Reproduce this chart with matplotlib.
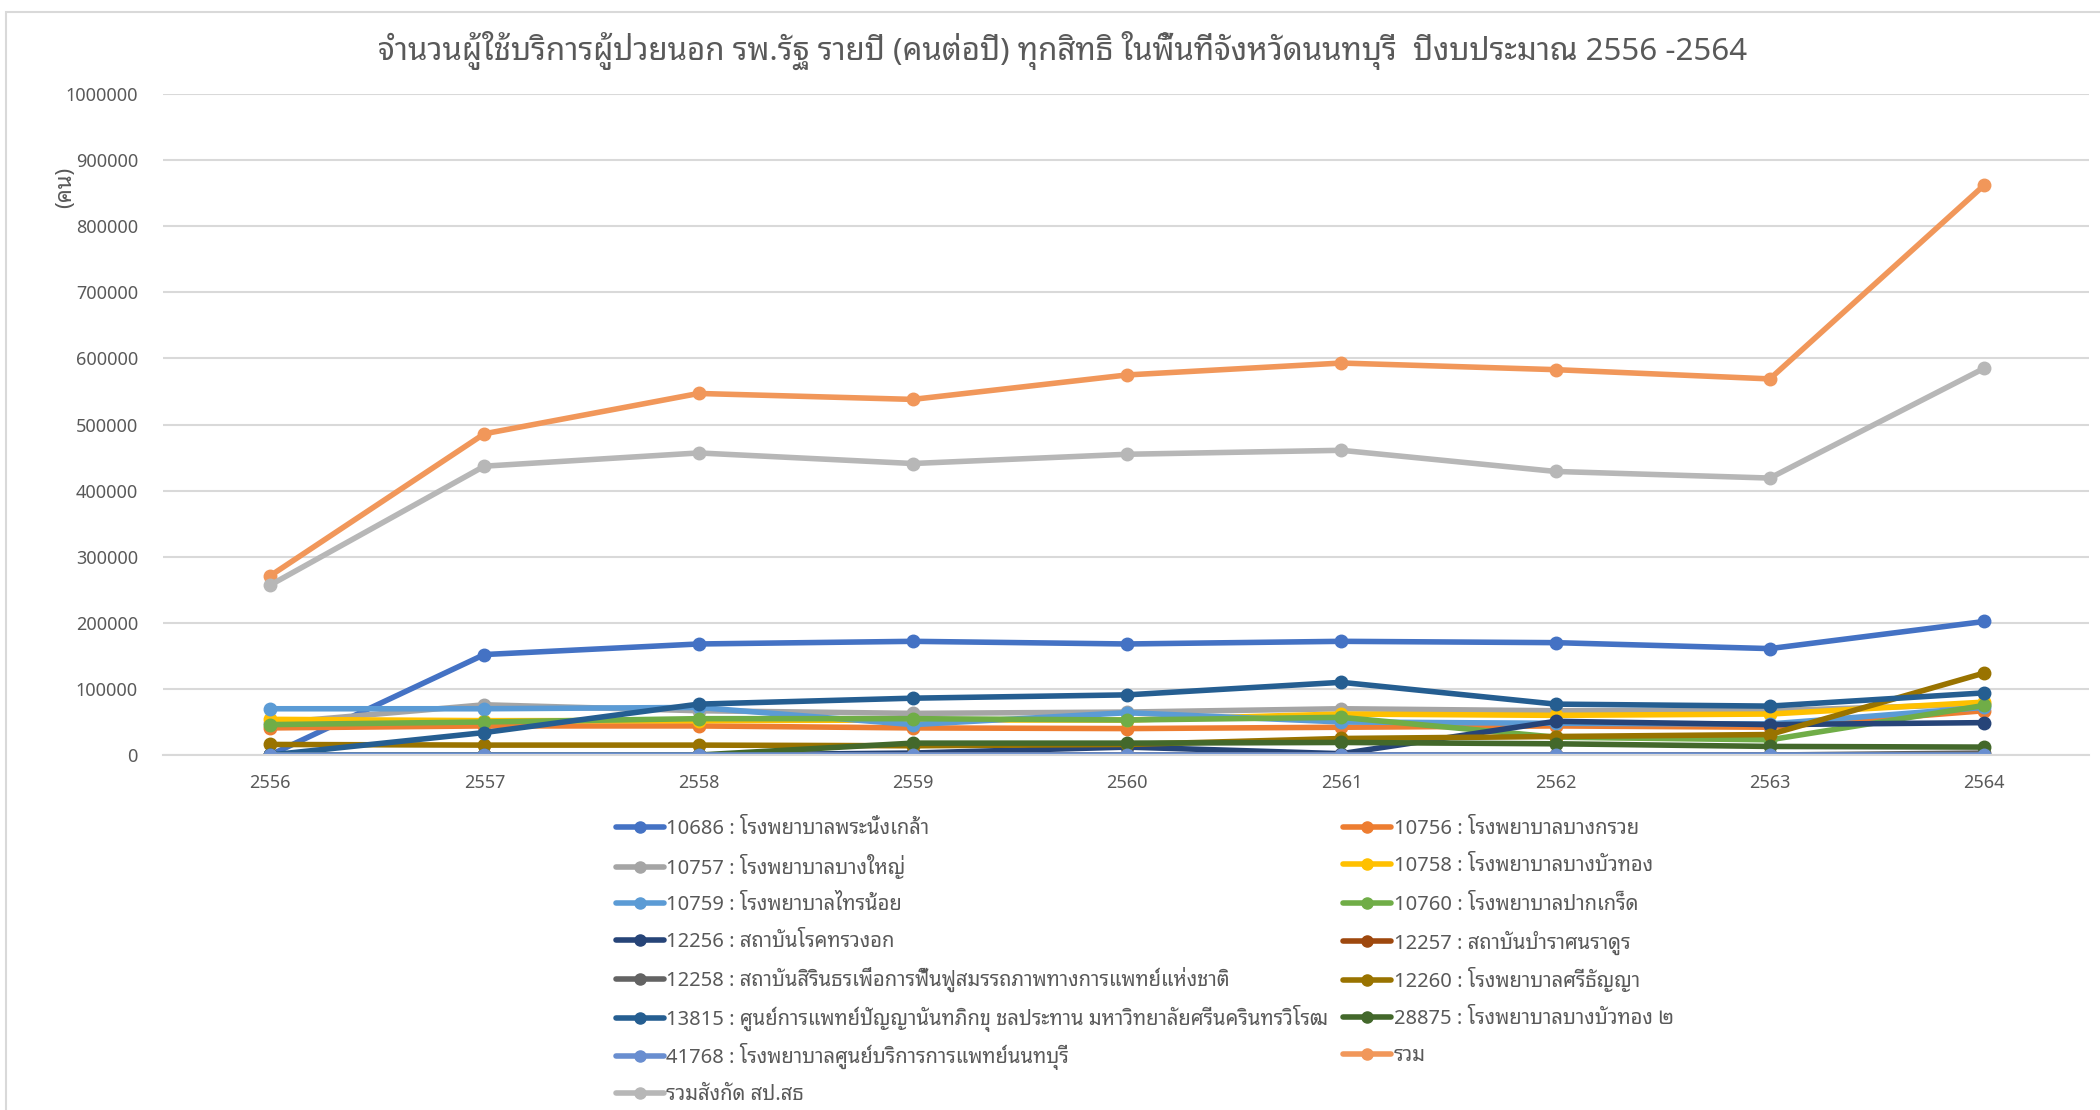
import matplotlib
matplotlib.use("Agg")
import matplotlib.pyplot as plt
from matplotlib import font_manager
from matplotlib.patches import Rectangle

# pick a Thai-capable font that is installed
names = set(f.name for f in font_manager.fontManager.ttflist)
thai_font = "DejaVu Sans"
for cand in ["Noto Sans Thai Looped", "Noto Sans Thai", "Sarabun", "Anuphan", "Athiti"]:
    if cand in names:
        thai_font = cand
        break
plt.rcParams['font.family'] = [thai_font, 'DejaVu Sans']

years = [2556, 2557, 2558, 2559, 2560, 2561, 2562, 2563, 2564]

labels = [
    "10686 : โรงพยาบาลพระนั่งเกล้า",
    "10756 : โรงพยาบาลบางกรวย",
    "10757 : โรงพยาบาลบางใหญ่",
    "10758 : โรงพยาบาลบางบัวทอง",
    "10759 : โรงพยาบาลไทรน้อย",
    "10760 : โรงพยาบาลปากเกร็ด",
    "12256 : สถาบันโรคทรวงอก",
    "12257 : สถาบันบำราศนราดูร",
    "12258 : สถาบันสิรินธรเพื่อการฟื้นฟูสมรรถภาพทางการแพทย์แห่งชาติ",
    "12260 : โรงพยาบาลศรีธัญญา",
    "13815 : ศูนย์การแพทย์ปัญญานันทภิกขุ ชลประทาน มหาวิทยาลัยศรีนครินทรวิโรฒ",
    "28875 : โรงพยาบาลบางบัวทอง ๒",
    "41768 : โรงพยาบาลศูนย์บริการการแพทย์นนทบุรี",
    "รวม",
    "รวมสังกัด สป.สธ",
]

h10686 = [0, 152000, 168000, 172000, 168000, 172000, 170000, 161000, 202000]
h10756 = [41000, 44000, 44000, 41000, 40000, 42000, 44000, 42000, 67000]
h10757 = [48000, 76000, 67000, 63000, 65000, 70000, 67000, 67000, 77000]
h10758 = [54000, 52000, 52000, 53000, 53000, 62000, 60000, 62000, 80000]
h10759 = [70000, 70000, 72000, 46000, 64000, 50000, 48000, 47000, 72000]
h10760 = [46000, 50000, 55000, 55000, 53000, 57000, 27000, 23000, 75000]
h12256 = [0, 0, 0, 3000, 12000, 2000, 51000, 46000, 49000]
h12257 = [0, 0, 0, 0, 0, 0, 0, 0, 0]
h12258 = [0, 0, 0, 0, 0, 0, 0, 0, 3000]
h12260 = [16000, 15000, 15000, 14000, 16000, 25000, 28000, 31000, 124000]
h13815 = [0, 34000, 77000, 86000, 91000, 110000, 77000, 74000, 94000]
h28875 = [0, 0, 0, 18000, 18000, 19000, 17000, 13000, 12000]
h41768 = [0, 0, 0, 0, 0, 0, 0, 0, 0]
total = [271000, 486000, 547000, 538000, 575000, 593000, 583000, 569000, 862000]
total_mph = [257000, 437000, 457000, 441000, 455000, 461000, 429000, 419000, 585000]

series = [h10686, h10756, h10757, h10758, h10759, h10760, h12256, h12257,
          h12258, h12260, h13815, h28875, h41768, total, total_mph]
colors = ["#4472C4", "#ED7D31", "#A5A5A5", "#FFC000", "#5B9BD5", "#70AD47",
          "#264478", "#9E480E", "#636363", "#997300", "#255E91", "#43682B",
          "#698ED0", "#F1975A", "#B7B7B7"]
yticks = list(range(0, 1000001, 100000))

fig = plt.figure(figsize=(21, 11.1), dpi=100)
ax = fig.add_axes([0.0776, 0.3198, 0.9172, 0.5955])

handles = []
for vals, lab, c in zip(series, labels, colors):
    ln, = ax.plot(years, vals, color=c, lw=4, marker='o', markersize=9,
                  label=lab, solid_capstyle='round')
    handles.append(ln)

ax.set_xlim(2555.5, 2564.49)
ax.set_ylim(0, 1000000)
ax.set_yticks(yticks)
ax.set_yticklabels([str(v) for v in yticks])
ax.set_xticks(years)
ax.set_xticklabels([str(y) for y in years])
ax.grid(axis='y', color='#D9D9D9', lw=1.5)
ax.set_axisbelow(True)
for s in ['top', 'right', 'left']:
    ax.spines[s].set_visible(False)
ax.spines['bottom'].set_color('#D9D9D9')
ax.spines['bottom'].set_linewidth(1.5)
ax.tick_params(axis='both', length=0, labelsize=13, colors='#595959', pad=14)
ax.tick_params(axis='y', pad=18)
ax.set_ylabel("(คน)", fontsize=16, color='#595959')
ax.yaxis.set_label_coords(-0.045, 0.858)

fig.text(0.506, 0.955, "จำนวนผู้ใช้บริการผู้ป่วยนอก รพ.รัฐ รายปี (คนต่อปี) ทุกสิทธิ ในพื้นที่จังหวัดนนทบุรี  ปีงบประมาณ 2556 -2564",
         ha='center', va='center', fontsize=22.5, color='#595959')

# legend laid out row by row in two columns, one small legend per entry
row_y = [0.2535, 0.2197, 0.1848, 0.151, 0.1172, 0.0822, 0.0484, 0.0134]
col_x = [0.2934, 0.6396]
for i, (h, lab) in enumerate(zip(handles, labels)):
    lg = fig.legend([h], [lab], loc='center left',
                    bbox_to_anchor=(col_x[i % 2], row_y[i // 2]),
                    frameon=False, fontsize=14.5, labelcolor='#595959',
                    handlelength=2.4, handletextpad=0.1, borderpad=0,
                    borderaxespad=0)
    lg.legend_handles[0].set_markersize(8)

fig.patches.append(Rectangle((0.003, -0.01), 1.1, 0.999, transform=fig.transFigure,
                             fill=False, edgecolor='#D9D9D9', lw=1.5))

fig.savefig("out.png", dpi=100)
